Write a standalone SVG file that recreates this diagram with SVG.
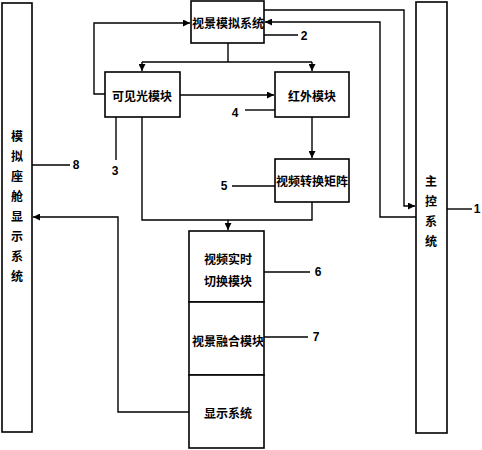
<svg xmlns="http://www.w3.org/2000/svg" width="482" height="450" viewBox="0 0 482 450">
<style>
.b{fill:#fff;stroke:#000;stroke-width:1.6}
.l{fill:none;stroke:#000;stroke-width:1.4}
.t{font-family:"Noto Sans CJK SC","Noto Sans",sans-serif;font-size:12px;font-weight:bold;fill:#000;text-anchor:middle;dominant-baseline:central}
.n{font-family:"Liberation Sans",sans-serif;font-size:12px;font-weight:bold;fill:#000;text-anchor:middle;dominant-baseline:central}
</style>
<defs>
<marker id="a" viewBox="0 0 10 10" refX="10" refY="5" markerWidth="7" markerHeight="7" markerUnits="userSpaceOnUse" orient="auto"><path d="M0,0L10,5L0,10z" fill="#000"/></marker>
</defs>
<rect width="482" height="450" fill="#fff"/>
<g id="connectors">
<path class="l" d="M264,10H404V206H415" marker-end="url(#a)"/>
<path class="l" d="M416,217H380V22H265" marker-end="url(#a)"/>
<path class="l" d="M105,94H94V23H190" marker-end="url(#a)"/>
<path class="l" d="M228,43V62"/>
<path class="l" d="M142,62H312"/>
<path class="l" d="M142,62V71" marker-end="url(#a)"/>
<path class="l" d="M312,62V71" marker-end="url(#a)"/>
<path class="l" d="M180,95H274" marker-end="url(#a)"/>
<path class="l" d="M312,117V158" marker-end="url(#a)"/>
<path class="l" d="M142,117V220H312V202"/>
<path class="l" d="M228,220V230" marker-end="url(#a)"/>
<path class="l" d="M189,412H118V217H33" marker-end="url(#a)"/>
<path d="M224,310L228,303L232,310z" fill="#000"/>
<path d="M224,383L228,376L232,383z" fill="#000"/>
<path class="l" d="M116,117V160"/>
<path class="l" d="M245,110H275"/>
<path class="l" d="M232,186H275"/>
<path class="l" d="M264,35H298"/>
<path class="l" d="M264,272H310"/>
<path class="l" d="M264,337H308"/>
<path class="l" d="M32,165H70"/>
<path class="l" d="M447,209H472"/>
</g>
<g id="n8"><rect class="b" x="2" y="3" width="30" height="429"/>
<text class="t" x="17" y="135">模</text><text class="t" x="17" y="155">拟</text><text class="t" x="17" y="175">座</text><text class="t" x="17" y="195">舱</text><text class="t" x="17" y="215">显</text><text class="t" x="17" y="235">示</text><text class="t" x="17" y="255">系</text><text class="t" x="17" y="275">统</text>
<text class="n" x="76" y="165">8</text></g>
<g id="n1"><rect class="b" x="416" y="2" width="31" height="431"/>
<text class="t" x="431" y="180">主</text><text class="t" x="431" y="200">控</text><text class="t" x="431" y="220">系</text><text class="t" x="431" y="240">统</text>
<text class="n" x="477" y="209">1</text></g>
<g id="n2"><rect class="b" x="191" y="1" width="73" height="42"/><text class="t" x="228" y="22">视景模拟系统</text><text class="n" x="304" y="36">2</text></g>
<g id="n3"><rect class="b" x="105" y="72" width="75" height="45"/><text class="t" x="142" y="95">可见光模块</text><text class="n" x="115" y="171">3</text></g>
<g id="n4"><rect class="b" x="275" y="72" width="74" height="45"/><text class="t" x="312" y="95">红外模块</text><text class="n" x="235" y="113">4</text></g>
<g id="n5"><rect class="b" x="275" y="159" width="74" height="43"/><text class="t" x="312" y="180">视频转换矩阵</text><text class="n" x="224" y="186">5</text></g>
<g id="n6"><rect class="b" x="189" y="231" width="75" height="71"/><text class="t" x="228" y="258">视频实时</text><text class="t" x="228" y="280">切换模块</text><text class="n" x="318" y="272">6</text></g>
<g id="n7"><rect class="b" x="189" y="302" width="75" height="73"/><text class="t" x="228" y="340">视景融合模块</text><text class="n" x="316" y="337">7</text></g>
<g id="n9"><rect class="b" x="189" y="375" width="75" height="73"/><text class="t" x="228" y="412">显示系统</text></g>
</svg>
